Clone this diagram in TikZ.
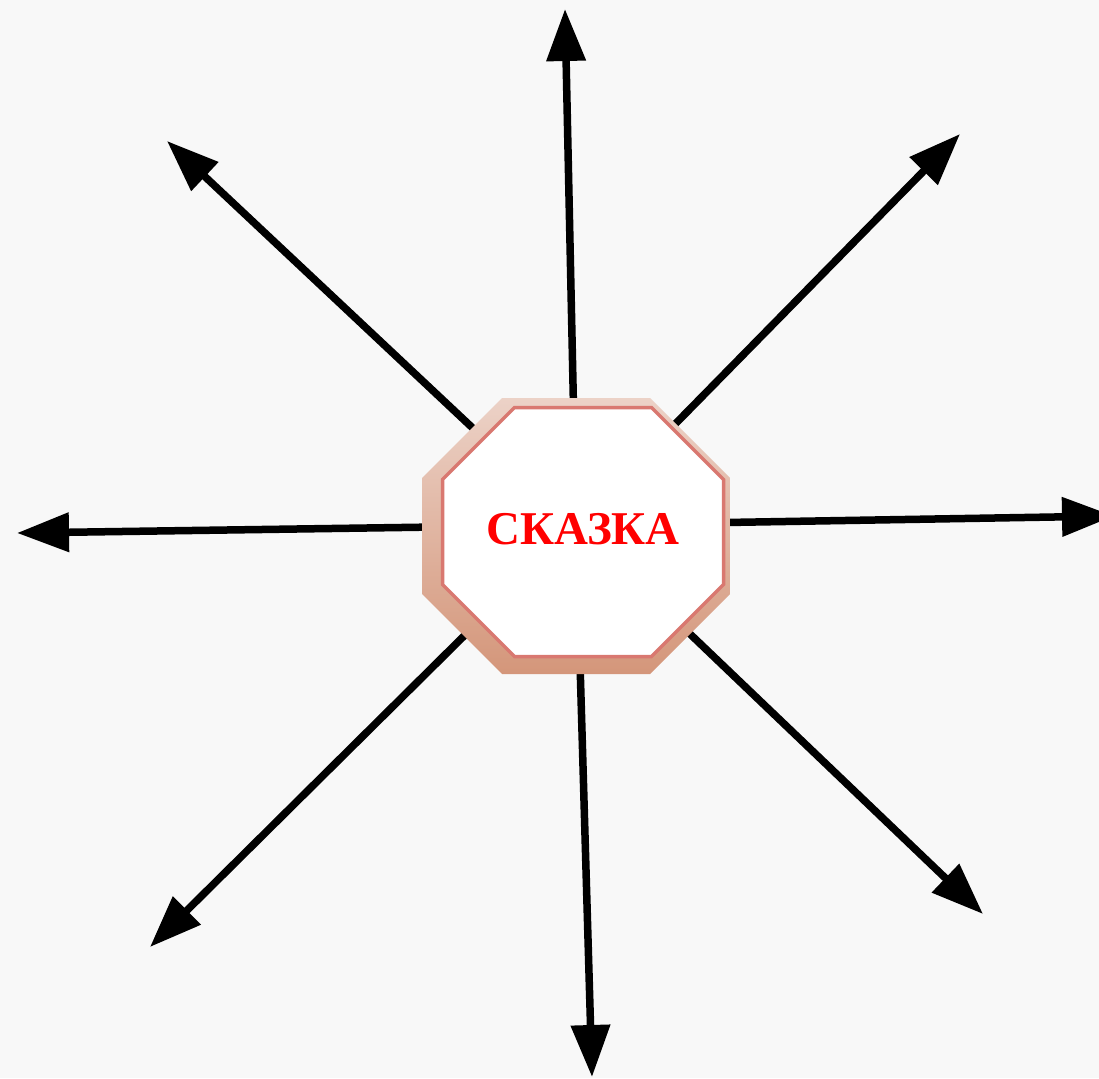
\documentclass[tikz,border=0pt]{standalone}
\usepackage{fontspec}
\newfontfamily\titlefont{Liberation Serif}
\usepackage{xcolor}
\definecolor{PAPERCOLOR}{RGB}{248,248,248}
\definecolor{RIMTOPCOLOR}{RGB}{236,210,199}
\definecolor{RIMBOTTOMCOLOR}{RGB}{212,150,122}
\definecolor{EDGECOLOR}{RGB}{217,120,112}
\colorlet{RAYCOLOR}{black}
\colorlet{TITLECOLOR}{red}
\usepackage{tikz}
\usetikzlibrary{arrows.meta}
\tikzset{
  ray-style/.style = {
    draw=RAYCOLOR, line width=7.5pt,
    -{Triangle[length=52pt,width=38pt]}
  },
  rim-style/.style = {
    top color=RIMTOPCOLOR, bottom color=RIMBOTTOMCOLOR
  },
  face-style/.style = {
    fill=white, draw=EDGECOLOR, line width=3.5pt
  },
  title-style/.style = {
    text=TITLECOLOR, inner sep=0pt,
    font=\titlefont\bfseries\fontsize{47}{52}\selectfont
  }
}

\begin{document}
\begin{tikzpicture}[x=1pt,y=-1pt]
    %%% page
    \fill[PAPERCOLOR] (0,0) rectangle (1099,1078);
    \useasboundingbox (0,0) rectangle (1099,1078);

    %%% rays
    \coordinate (hub) at (576,525);
    \coordinate (tipN)  at (565,9);
    \coordinate (tipNE) at (960,134);
    \coordinate (tipE)  at (1114,516);
    \coordinate (tipSE) at (983,914);
    \coordinate (tipS)  at (592,1077);
    \coordinate (tipSW) at (150,947);
    \coordinate (tipW)  at (17,533);
    \coordinate (tipNW) at (167,141);
    \foreach \t in {tipN,tipNE,tipE,tipSE,tipS,tipSW,tipW,tipNW}
      \path[ray-style] (hub) -- (\t);

    %%% octagon
    \shade[rim-style] (502,398) -- (650,398) -- (730,478) -- (730,594)
      -- (650,674) -- (502,674) -- (422,594) -- (422,478) -- cycle;
    \path[face-style] (514.5,407.5) -- (651.5,407.5) -- (723.5,479.5)
      -- (723.5,584.5) -- (651.5,656.5) -- (514.5,656.5) -- (442.5,584.5)
      -- (442.5,479.5) -- cycle;
    \node[title-style] (title) at (583,529) {СКАЗКА};
\end{tikzpicture}
\end{document}
